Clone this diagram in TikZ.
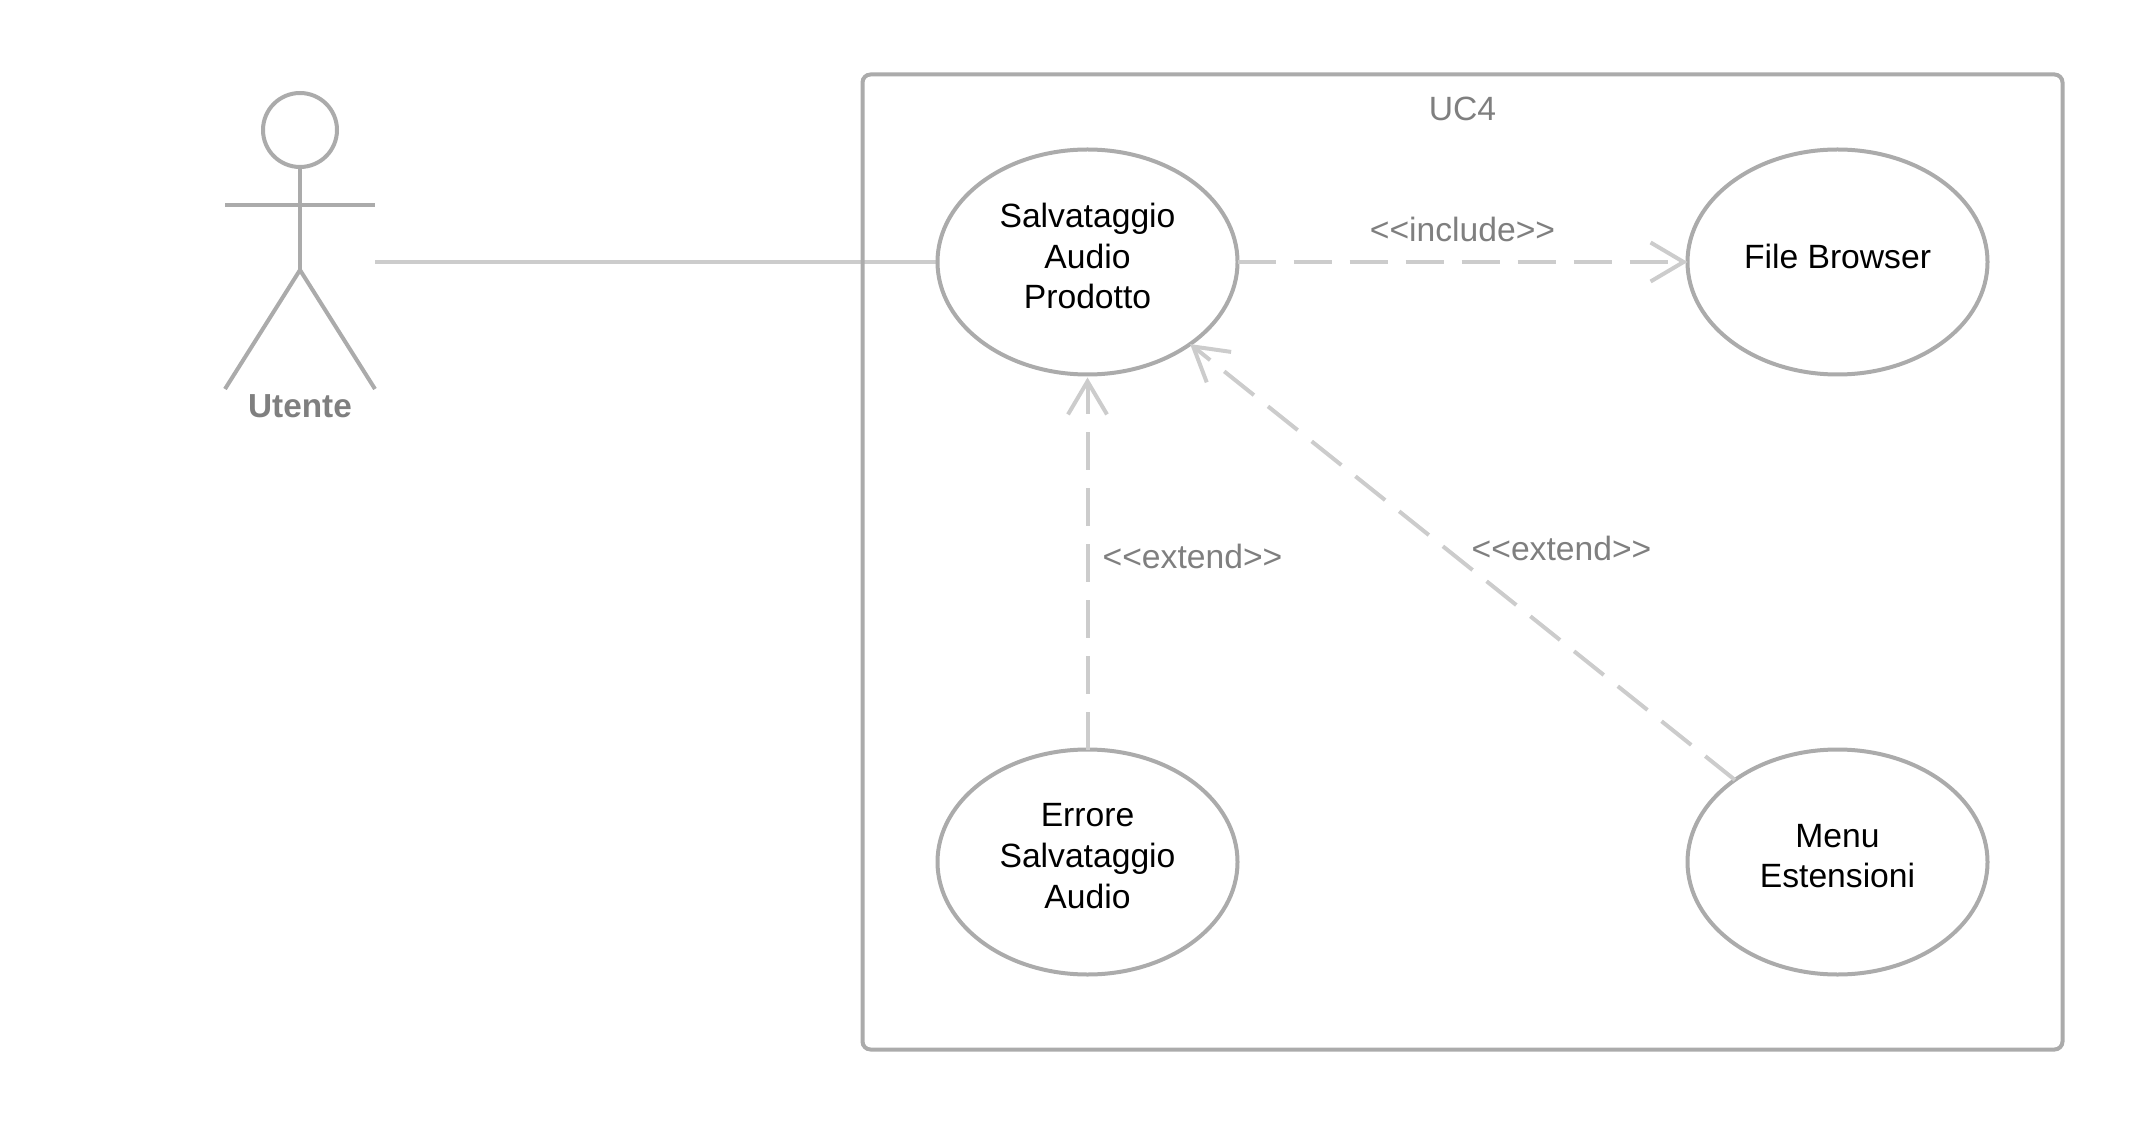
\documentclass[tikz,border=0pt]{standalone}
\usepackage{fontspec}
\setmainfont{Liberation Sans}
\usetikzlibrary{arrows.meta,backgrounds,positioning,fit,shapes.geometric}
\definecolor{shapegray}{HTML}{ABABAB}
\definecolor{linkgray}{HTML}{CCCCCC}
\definecolor{textgray}{HTML}{7F7F7F}

\begin{document}
\begin{tikzpicture}
[node distance=12cm and 15cm,on grid,>={Straight Barb[length=.66cm,width=.78cm]},
every node/.style= {font=\fontsize{19.15}{23.2}\selectfont,align=center,outer sep=0pt},
usecase/.style= {ellipse,draw=shapegray,line width=.08cm,minimum width=6cm,minimum height=4.5cm,inner sep=0pt,text depth=.24cm},
stick/.style= {draw=shapegray,line width=.08cm},
link/.style= {draw=linkgray,line width=.08cm},
extendlink/.style= {link,->,dash pattern=on .76cm off .36cm},
gray label/.style= {text=textgray}]
\useasboundingbox (0,0) rectangle (42.76,-22.5);
\node [usecase] (save) at (21.75,-5.24) {Salvataggio\\Audio\\Prodotto};
\node [usecase] (browser) [right=of save] {File Browser};
\node [usecase] (error) [below=of save] {Errore\\Salvataggio\\Audio};
\node [usecase] (menu) [below=of browser] {Menu\\Estensioni};
% actor
\node [circle,stick,minimum size=1.48cm,inner sep=0pt] (head) at (6,-2.6) {};
\coordinate [below=1.5cm of head] (neck);
\coordinate [left=1.5cm of neck] (lhand);
\coordinate [right=1.5cm of neck] (rhand);
\coordinate [below=2.8cm of head] (hip);
\coordinate [below=5.18cm of head] (feet);
\coordinate [left=1.5cm of feet] (lfoot);
\coordinate [right=1.5cm of feet] (rfoot);
\coordinate (port) at (7.5,-5.24);
\draw [stick] (head) -- (hip);
\draw [stick] (lhand) -- (rhand);
\draw [stick] (lfoot) -- (hip) -- (rfoot);
\node [gray label,font=\fontsize{18.95}{23.2}\selectfont\bfseries] (actor) [below=5.52cm of head] {Utente};
% links
\draw [extendlink] (save) -- (browser)
node [gray label,midway,yshift=.66cm] (include) {<{}<include>{}>};
\draw [extendlink,shorten >=.06cm] (error) -- (save)
node [gray label,midway,xshift=2.1cm,yshift=.11cm] (extend1) {<{}<extend>{}>};
\draw [extendlink] (menu) -- (save)
node [gray label,midway,xshift=1.98cm,yshift=.28cm] (extend2) {<{}<extend>{}>};
\begin{scope}[on background layer]
\draw [link] (port) -- (save);
\node (system) [draw=shapegray,line width=.08cm,rounded corners=.16cm,inner sep=1.5cm,fit=(save)(browser)(error)(menu)] {};
\end{scope}
\node [gray label] (title) [below=.33cm of system.north] {UC4};
\end{tikzpicture}
\end{document}
